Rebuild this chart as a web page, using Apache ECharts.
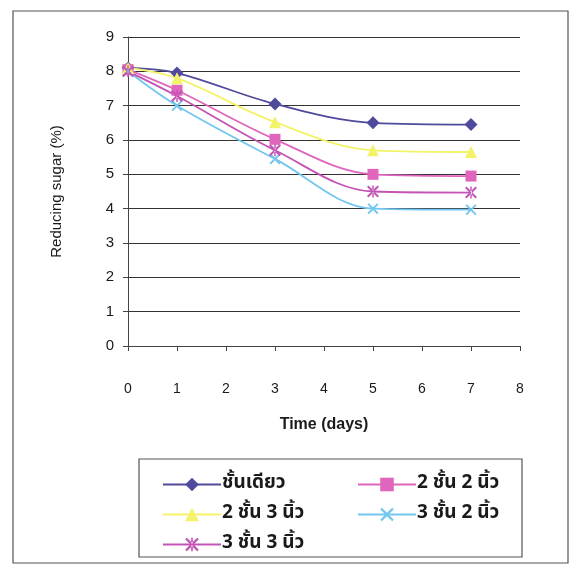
<!DOCTYPE html>
<html>
<head>
<meta charset="utf-8">
<script src="https://cdn.jsdelivr.net/npm/echarts@6/dist/echarts.min.js"></script>
<style>html,body{margin:0;padding:0;background:#fff;}#c{width:581px;height:573px;}</style>
</head>
<body>
<div id="c"></div>
<script>
const days = [0, 1, 3, 5, 7];
const seriesNames = ['ชั้นเดียว', '2 ชั้น 2 นิ้ว', '2 ชั้น 3 นิ้ว', '3 ชั้น 2 นิ้ว', '3 ชั้น 3 นิ้ว'];
const single = [8.1, 7.95, 7.05, 6.5, 6.45];
const two2 = [8.05, 7.45, 6.02, 5.0, 4.95];
const two3 = [8.1, 7.8, 6.52, 5.7, 5.65];
const three2 = [8.0, 7.0, 5.45, 4.0, 3.97];
const three3 = [8.0, 7.28, 5.7, 4.5, 4.47];
const yTicks = [0, 1, 2, 3, 4, 5, 6, 7, 8, 9];
const xTicks = [0, 1, 2, 3, 4, 5, 6, 7, 8];

const pts = v => days.map((d, i) => [d, v[i]]);
const X_PATH = 'path://M0,1.2L1.2,0L5,3.8L8.8,0L10,1.2L6.2,5L10,8.8L8.8,10L5,6.2L1.2,10L0,8.8L3.8,5Z';
const STAR_PATH = 'path://M0,1.2L1.2,0L5,3.8L8.8,0L10,1.2L6.2,5L10,8.8L8.8,10L5,6.2L1.2,10L0,8.8L3.8,5Z M4.4,0L4.4,10L5.6,10L5.6,0Z';

function mk(name, data, color, symbol, size) {
  return {
    name, type: 'line', data: pts(data), smooth: 0.35,
    symbol, symbolSize: size,
    lineStyle: { color, width: 1.8 },
    itemStyle: { color, borderWidth: 0 },
    z: 3
  };
}

const chart = echarts.init(document.getElementById('c'), null, { renderer: 'canvas' });
const font = '"Liberation Sans", Arial, sans-serif';
const thaiFont = '"Noto Sans Thai", "Noto Sans Thai UI", "Loma", "Garuda", "Norasi", "DejaVu Sans", "Noto Sans", sans-serif';
const legendText = { fontFamily: thaiFont, fontSize: 19, fontWeight: 'bold', color: '#1a1a1a', padding: [0, 0, 0, -4] };
chart.setOption({
  animation: false,
  backgroundColor: '#fff',
  grid: { left: 128, top: 37, right: 61, bottom: 227 },
  xAxis: {
    type: 'value', min: 0, max: 8, interval: 1,
    name: 'Time (days)', nameLocation: 'middle', nameGap: 71,
    nameTextStyle: { fontFamily: font, fontSize: 16, fontWeight: 'bold', color: '#1a1a1a' },
    axisLine: { show: true, lineStyle: { color: '#444', width: 1 } },
    axisTick: { show: true, length: 5, lineStyle: { color: '#444' } },
    axisLabel: { margin: 36, fontFamily: font, fontSize: 14, color: '#1a1a1a',
      formatter: v => xTicks.includes(v) ? String(v) : '' },
    splitLine: { show: false }
  },
  yAxis: {
    type: 'value', min: 0, max: 9, interval: 1,
    name: 'Reducing sugar (%)', nameLocation: 'middle', nameGap: 64,
    nameTextStyle: { fontFamily: font, fontSize: 15, color: '#1a1a1a' },
    axisLine: { show: true, lineStyle: { color: '#444', width: 1 } },
    axisTick: { show: true, length: 5, lineStyle: { color: '#444' } },
    axisLabel: { margin: 14, fontFamily: font, fontSize: 15, color: '#1a1a1a',
      formatter: v => yTicks.includes(v) ? String(v) : '' },
    splitLine: { show: true, lineStyle: { color: '#333', width: 1 } }
  },
  legend: [
    {
      data: [seriesNames[0], seriesNames[2], seriesNames[4]],
      orient: 'vertical', left: 157, top: 470, itemWidth: 58, itemHeight: 17, itemGap: 11,
      textStyle: legendText
    },
    {
      data: [seriesNames[1], seriesNames[3]],
      orient: 'vertical', left: 352, top: 470, itemWidth: 58, itemHeight: 17, itemGap: 11,
      textStyle: legendText
    }
  ],
  graphic: [
    { type: 'rect', shape: { x: 13, y: 11, width: 555, height: 552 },
      style: { fill: 'none', stroke: '#555', lineWidth: 1.2 }, silent: true, z: -1 },
    { type: 'rect', shape: { x: 139, y: 459, width: 383, height: 98 },
      style: { fill: 'none', stroke: '#555', lineWidth: 1.2 }, silent: true, z: -1 }
  ],
  series: [
    mk(seriesNames[0], single, '#4f4a9c', 'diamond', 13),
    mk(seriesNames[1], two2, '#e066bd', 'rect', 11),
    mk(seriesNames[2], two3, '#f3f36a', 'triangle', 12),
    mk(seriesNames[3], three2, '#72c6ef', X_PATH, 11),
    mk(seriesNames[4], three3, '#c353b4', STAR_PATH, 12)
  ]
});
</script>
</body>
</html>
